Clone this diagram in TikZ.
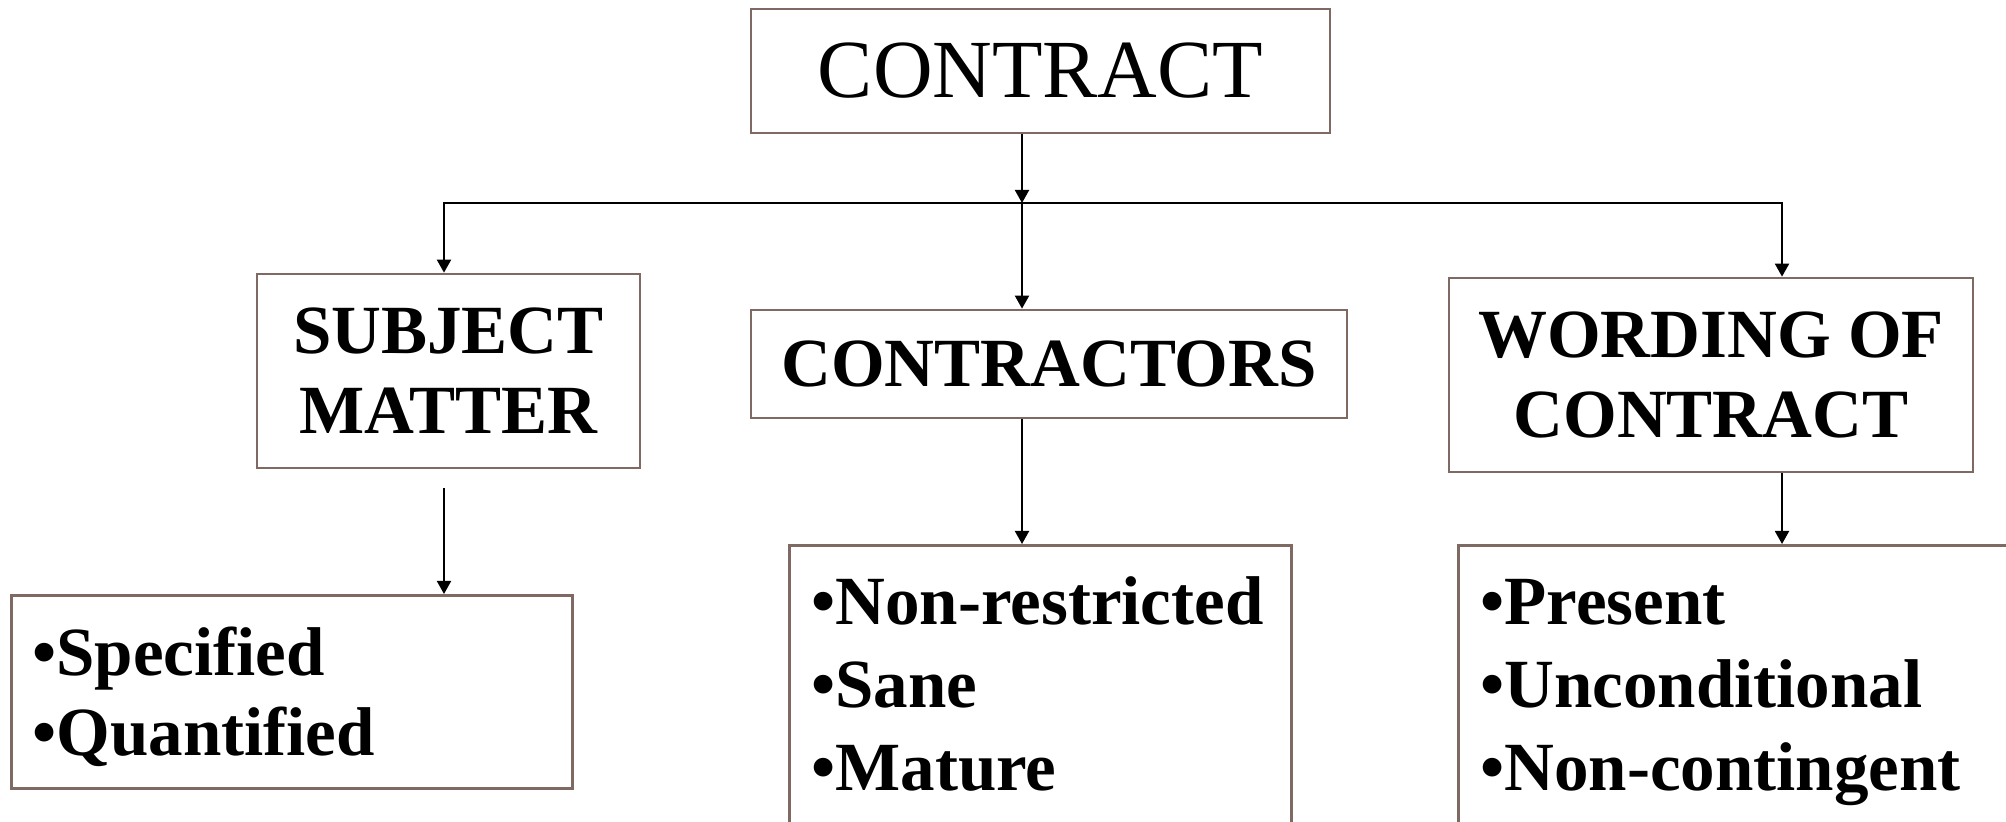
\documentclass[tikz,border=0pt]{standalone}
\usepackage{fontspec}
\setmainfont{Liberation Serif}
\usepackage{tikz}
\usetikzlibrary{arrows.meta,positioning}
\definecolor{BoxBrown}{HTML}{7E6A62}
\definecolor{ArrDark}{HTML}{000000}

\begin{document}
\begin{tikzpicture}[x=0.5pt,y=-0.5pt,
  box/.style={draw=BoxBrown,line width=1.35pt,inner sep=0pt,align=center,
    font=\fontsize{34.5}{40}\selectfont\bfseries},
  listbox/.style={draw=BoxBrown,line width=1.35pt,inner ysep=0pt,inner xsep=11pt,align=left,anchor=north west,
    font=\fontsize{34.5}{41.5}\selectfont\bfseries},
  arr/.style={-{Triangle[length=6.5pt,width=7pt]},line width=1pt,draw=ArrDark}]
\useasboundingbox (0,0) rectangle (2006,822);
\node[box,minimum width=289.5pt,minimum height=62pt,font=\fontsize{41.3}{48}\selectfont] (contract) at (1040.5,71) {CONTRACT};
\coordinate (hub) at (1022,203);
\node[box,minimum width=191.5pt,minimum height=97pt] (subj) at (448.5,371) {SUBJECT\\MATTER};
\node[box,minimum width=298pt,minimum height=54pt] (ctr) at (1049,364) {CONTRACTORS};
\node[box,minimum width=262pt,minimum height=97pt] (word) at (1711,375) {WORDING OF\\CONTRACT};
\node[listbox,text width=259.5pt,inner xsep=10.5pt,text height=40pt,text depth=56.5pt,
  font=\fontsize{34.5}{40.3}\selectfont\bfseries] (spec) at (10,594) {•Specified\\•Quantified};
\node[listbox,text width=229pt,text height=39.5pt,text depth=140pt] (clist) at (788,544) {•Non-restricted\\•Sane\\•Mature};
\node[listbox,text width=278pt,text height=39.5pt,text depth=140pt] (wlist) at (1457,544) {•Present\\•Unconditional\\•Non-contingent};
\draw[arr] (contract.south -| hub) -- (hub);
\draw[arr] (hub) -| (subj.north -| 444,0);
\draw[arr] (hub) -| (word.north -| 1782,0);
\draw[arr] (hub) -- (hub |- ctr.north);
\draw[arr,shorten <=9.5pt] (subj.south -| 444,0) -- (spec.north -| 444,0);
\draw[arr] (hub |- ctr.south) -- (hub |- clist.north);
\draw[arr] (word.south -| 1782,0) -- (wlist.north -| 1782,0);
\end{tikzpicture}
\end{document}
